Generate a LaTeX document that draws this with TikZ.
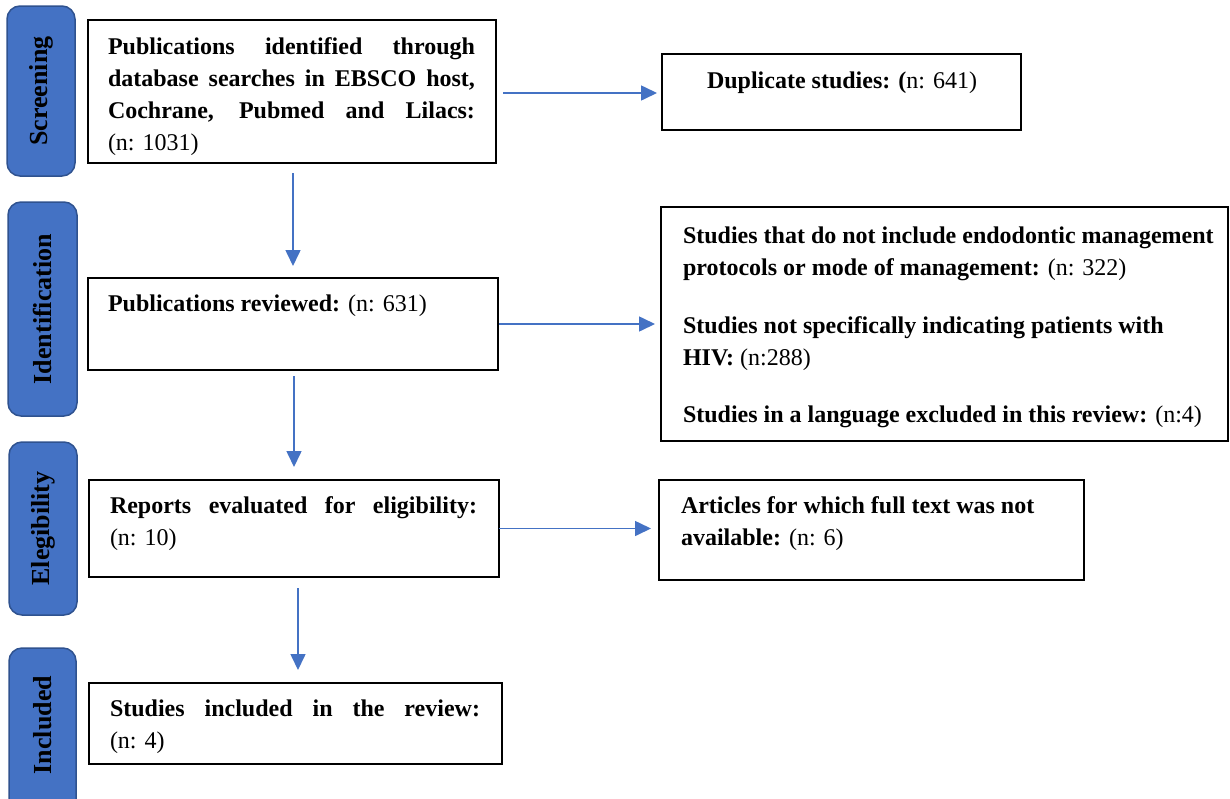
\documentclass[tikz,border=0pt]{standalone}
\usepackage{fontspec}
\setmainfont{Liberation Serif}
\usetikzlibrary{arrows.meta,calc}
\definecolor{sideblue}{HTML}{4472C4}
\definecolor{sideedge}{HTML}{2F528F}
\definecolor{arrowblue}{HTML}{4472C4}
\newcommand{\jl}[2]{\hbox to #1pt{#2}}
\begin{document}
\begin{tikzpicture}[x=1pt,y=-1pt,
  box/.style={draw=black,line width=2pt,anchor=north west,inner sep=0pt,outer sep=0pt},
  side/.style={draw=sideedge,fill=sideblue,line width=1.5pt,rounded corners=13pt,anchor=north west,inner sep=0pt,outer sep=0pt},
  sidetext/.style={rotate=90,font=\fontsize{26}{30}\selectfont\bfseries,text=black},
  txt/.style={anchor=north west,inner sep=0pt,outer sep=0pt,align=left,font=\fontsize{24}{32}\selectfont},
  arr/.style={draw=arrowblue,line width=1.6pt,-{Triangle[length=16pt,width=15pt]}}
]
\useasboundingbox (0,0) rectangle (1230,798);
% side labels
\node[side,minimum width=68,minimum height=170] (s1) at (7,6) {};
\node[sidetext] (s1t) at (s1.center) {Screening};
\node[side,minimum width=69,minimum height=214] (s2) at (8,202) {};
\node[sidetext] (s2t) at (s2.center) {Identification};
\node[side,minimum width=68,minimum height=173] (s3) at (9,442) {};
\node[sidetext] (s3t) at (s3.center) {Elegibility};
\node[side,minimum width=67,minimum height=170] (s4) at (9,648) {};
\node[sidetext] (s4t) at ([yshift=8pt]s4.center) {Included};
% boxes
\node[box,minimum width=408,minimum height=143] (b1) at (88,20) {};
\node[box,minimum width=359,minimum height=76] (b2) at (662,54) {};
\node[box,minimum width=410,minimum height=92] (b3) at (88,278) {};
\node[box,minimum width=567,minimum height=234] (b4) at (661,207) {};
\node[box,minimum width=410,minimum height=97] (b5) at (89,480) {};
\node[box,minimum width=425,minimum height=100] (b6) at (659,480) {};
\node[box,minimum width=413,minimum height=81] (b7) at (89,683) {};
% texts
\node[txt] (t1) at (108,38) {\jl{367}{\textbf{Publications identified through}}\\
\jl{367}{\textbf{database searches in EBSCO host,}}\\
\jl{367}{\textbf{Cochrane, Pubmed and Lilacs:}}\\
(n: 1031)};
\node[txt,anchor=north] (t2) at (842,72) {\textbf{Duplicate studies: (}n: 641)};
\node[txt] (t3) at (108,295) {\textbf{Publications reviewed:} (n: 631)};
\node[txt] (t4) at (683,227) {\textbf{Studies that do not include endodontic management}\\
\textbf{protocols or mode of management:} (n: 322)\\[26pt]
\textbf{Studies not specifically indicating patients with}\\
\textbf{HIV:} (n:288)\\[25pt]
\textbf{Studies in a language excluded in this review:} (n:4)};
\node[txt] (t5) at (110,497) {\jl{367}{\textbf{Reports evaluated for eligibility:}}\\
(n: 10)};
\node[txt] (t6) at (681,497) {\textbf{Articles for which full text was not}\\
\textbf{available:} (n: 6)};
\node[txt] (t7) at (110,700) {\jl{370}{\textbf{Studies included in the review:}}\\
(n: 4)};
% arrows
\draw[arr,shorten <=7pt,shorten >=5pt] ([yshift=-1.5pt]b1.east) -- ([yshift=-1.5pt]b1.east -| b2.west);
\draw[arr,shorten <=10pt,shorten >=12pt] ([xshift=1pt]b1.south) -- ([xshift=1pt]b1.south |- b3.north);
\draw[arr,shorten <=1pt,shorten >=6pt] (b3.east) -- (b3.east -| b4.west);
\draw[arr,shorten <=6pt,shorten >=13pt] ([xshift=1pt]b3.south) -- ([xshift=1pt]b3.south |- b5.north);
\draw[arr,shorten <=0pt,shorten >=8pt] (b5.east) -- (b5.east -| b6.west);
\draw[arr,shorten <=11pt,shorten >=13pt] ([xshift=4pt]b5.south) -- ([xshift=4pt]b5.south |- b7.north);
\end{tikzpicture}
\end{document}
